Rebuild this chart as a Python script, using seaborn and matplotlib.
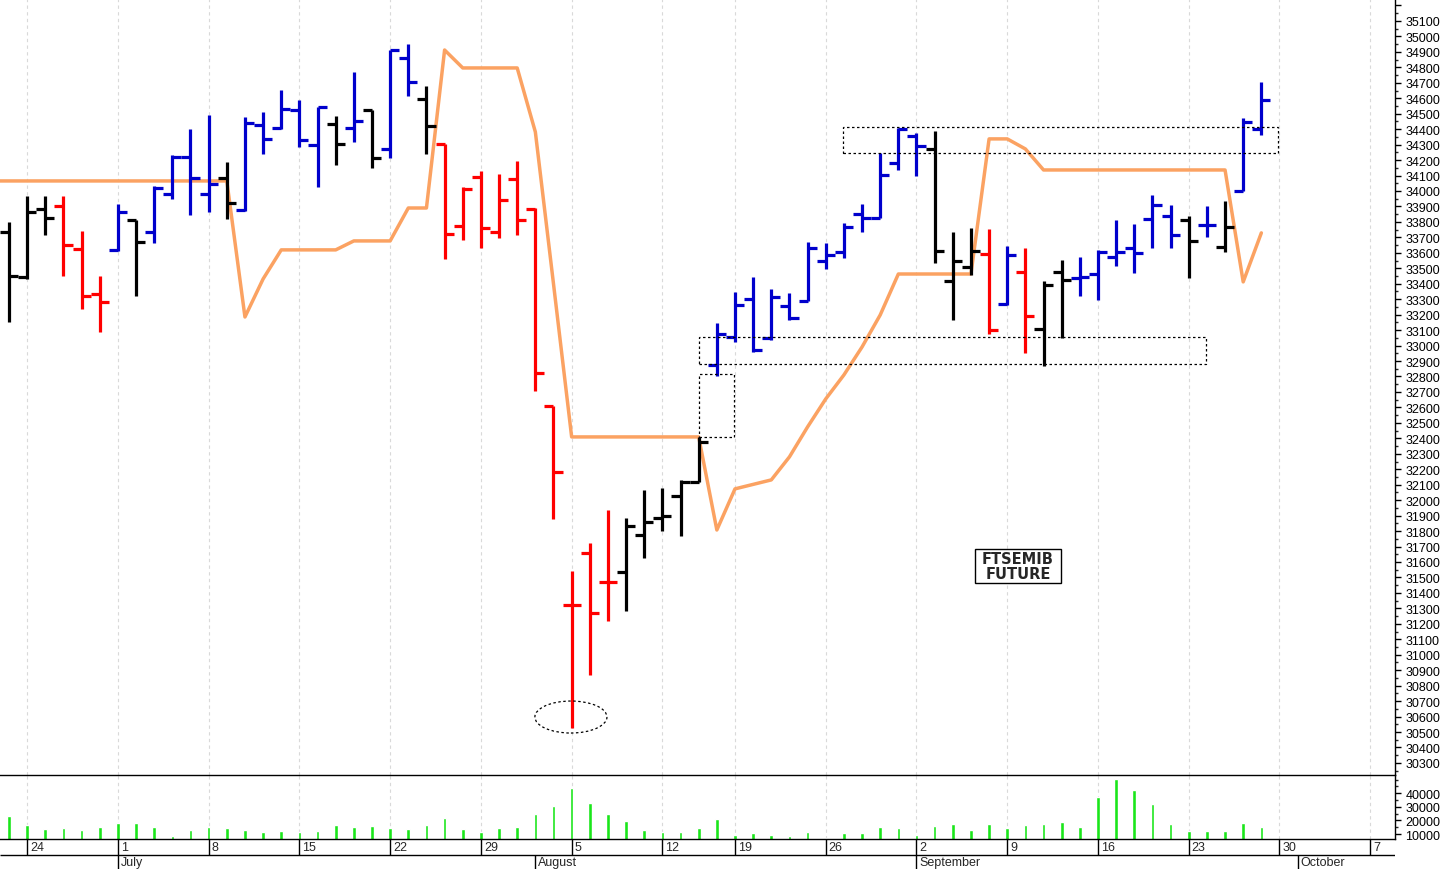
import numpy as np
import pandas as pd
import matplotlib
matplotlib.use("Agg")
import matplotlib.pyplot as plt
import seaborn as sns
from matplotlib.patches import Rectangle, Ellipse
from matplotlib.ticker import MultipleLocator, FixedLocator, FuncFormatter

# ---------------- data ----------------
trading_days = [d for d in pd.bdate_range("2024-06-21", "2024-10-11")
                if d != pd.Timestamp("2024-08-15")]

opens = [33735, 33444, 33884, 33903, 33625, 33334, 33619, 33813, 33735, 33981,
         34220, 33981, 34084, 33877, 34427, 34408, 34524, 34298, 34434, 34408,
         34524, 34272, 34861, 34595, 34304, 33774, 34091, 33735, 34078, 33884,
         32609, 31322, 31659, 31471, 31536, 31775, 31885, 32027, 32118, 32875,
         33056, 33302, 33049, 33256, 33289, 33547, 33606, 33851, 33826, 34181,
         34356, 34272, 33418, 33509, 33593, 33269, 33476, 33108, 33476, 33437,
         33463, 33573, 33632, 33819, 33839, 33813, 33780, 33638, 34000, 34401]
highs = [33800, 33968, 33968, 33968, 33741, 33450, 33916, 33813, 34033, 34233,
         34401, 34492, 34188, 34479, 34511, 34654, 34589, 34544, 34485, 34770,
         34524, 34912, 34951, 34680, 34304, 34026, 34130, 34110, 34194, 33890,
         32609, 31542, 31723, 31937, 31885, 32066, 32079, 32131, 32409, 33146,
         33347, 33444, 33366, 33340, 33670, 33664, 33793, 33916, 34246, 34408,
         34375, 34388, 33735, 33761, 33754, 33644, 33632, 33418, 33554, 33573,
         33619, 33813, 33787, 33974, 33910, 33839, 33903, 33936, 34473, 34705]
lows = [33153, 33431, 33716, 33450, 33237, 33088, 33612, 33321, 33664, 33949,
        33845, 33864, 33819, 33871, 34240, 34401, 34285, 34026, 34168, 34317,
        34149, 34214, 34615, 34240, 33560, 33683, 33632, 33696, 33716, 32706,
        31878, 30526, 30869, 31219, 31283, 31626, 31801, 31768, 32118, 32803,
        33023, 32959, 33036, 33166, 33289, 33496, 33567, 33735, 33826, 34136,
        34097, 33534, 33166, 33457, 33075, 33263, 32952, 32868, 33049, 33321,
        33295, 33515, 33470, 33632, 33632, 33437, 33703, 33606, 34000, 34363]
closes = [33450, 33864, 33826, 33651, 33321, 33282, 33864, 33670, 34020, 34220,
          34084, 34046, 33923, 34440, 34337, 34531, 34330, 34544, 34304, 34453,
          34214, 34912, 34705, 34421, 33722, 34013, 33761, 33942, 33813, 32823,
          32182, 31322, 31270, 31471, 31833, 31859, 31898, 32118, 32377, 33075,
          33263, 32972, 33315, 33179, 33632, 33586, 33767, 33826, 34104, 34401,
          34291, 33612, 33547, 33612, 33101, 33586, 33192, 33392, 33425, 33444,
          33606, 33606, 33599, 33910, 33716, 33677, 33780, 33767, 34447, 34589]
bar_colors = list("kkkrrrbkbbbbkbbbbbkbkbbkrrrrrrrrrrkkkkkbbbbbbbbbbbbkkkrbrkkbbbbbbkbkbb")

# indicator value for the session before the first bar, then one per bar
orange_prev = 34065
orange_line = [34065, 34065, 34065, 34065, 34065, 34065, 34065, 34065, 34065, 34065,
               34065, 34065, 34065, 33185, 33431, 33619, 33619, 33619, 33619, 33677,
               33677, 33677, 33890, 33890, 34912, 34796, 34796, 34796, 34796, 34382,
               33399, 32409, 32409, 32409, 32409, 32409, 32409, 32409, 32409, 31807,
               32073, 32102, 32131, 32280, 32474, 32655, 32810, 32991, 33198, 33463,
               33463, 33463, 33463, 33463, 34337, 34337, 34272, 34136, 34136, 34136,
               34136, 34136, 34136, 34136, 34136, 34136, 34136, 34136, 33412, 33729]

volume = [23000, 16600, 13450, 14200, 12700, 14900, 18100, 18100, 14900, 8300,
          13200, 14900, 14200, 12700, 11200, 12000, 11500, 12200, 16600, 15100,
          15600, 14200, 13450, 16600, 21800, 13450, 11500, 14200, 14900, 24700,
          30400, 43600, 32800, 24700, 19600, 13000, 11200, 11500, 14500, 21000,
          9500, 10700, 9300, 8800, 11200, 6800, 10500, 10500, 14900, 14200,
          9500, 15600, 17400, 12700, 17400, 14400, 16600, 17400, 18600, 15400,
          37000, 50400, 42600, 32300, 17100, 12400, 12400, 12400, 18100, 15400]

month_names = ["July", "August", "September", "October"]

# annotations (x in bar index units, y in price)
zone_boxes = [(45.95, 69.92, 34246, 34414),
              (38.02, 65.95, 32881, 33056),
              (38.02, 39.94, 32409, 32816)]
low_ellipse = (30.96, 30597, 3.97, 207)
label_box = (53.22, 57.96, 31464, 31684)
label_text = "FTSEMIB\nFUTURE"

# ---------------- style ----------------
sns.set_style("white")
plt.rcParams['font.family'] = ['Liberation Sans', 'DejaVu Sans']

color_map = {'k': '#000000', 'r': '#FF0000', 'b': '#0000CC'}
cols = [color_map[c] for c in bar_colors]
idx = np.arange(len(closes))

W, H = 1445, 870
fig = plt.figure(figsize=(W / 100, H / 100), dpi=100)
axw = 1395 / W
ax_p = fig.add_axes([0, 94 / H, axw, 776 / H])
ax_v = fig.add_axes([0, 30 / H, axw, 64 / H])
ax_d = fig.add_axes([0, 0, axw, 30 / H])
x0, x1 = -9 / 18.15, (1395 - 9) / 18.15

mondays = [i for i, d in enumerate(trading_days) if d.weekday() == 0]
month_starts = [i for i in range(1, len(trading_days))
                if trading_days[i].month != trading_days[i - 1].month]

p_lim = (30222, 35242)
v_lim = (6324, 53383)

# grid
for ax, lim in ((ax_p, p_lim), (ax_v, v_lim)):
    ax.set_xlim(x0, x1)
    ax.set_ylim(*lim)
    ax.vlines(mondays, lim[0], lim[1], colors='#d9d9d9',
              linestyles=(0, (3, 3)), lw=0.8, zorder=0)

# orange indicator line
o_x = np.concatenate([[-1], idx])
o_y = [orange_prev] + orange_line
sns.lineplot(x=o_x, y=o_y, ax=ax_p, color='#FBA262', lw=2.5, zorder=2)
ax_p.set_xlim(x0, x1)

# OHLC bars
lw = 2.3
ax_p.vlines(idx, lows, highs, colors=cols, lw=lw, zorder=3)
ax_p.hlines(opens, idx - 0.5, idx, colors=cols, lw=lw, zorder=3)
ax_p.hlines(closes, idx, idx + 0.5, colors=cols, lw=lw, zorder=3)

# dotted zones
for (xa, xb, ya, yb) in zone_boxes:
    ax_p.add_patch(Rectangle((xa, ya), xb - xa, yb - ya, fill=False, ec='black',
                             lw=0.9, ls=(0, (2, 2)), zorder=4))
ex, ey, ew, eh = low_ellipse
ax_p.add_patch(Ellipse((ex, ey), ew, eh, fill=False, ec='black', lw=0.9,
                       ls=(0, (2, 2)), zorder=4))

# label box
bx0, bx1, by0, by1 = label_box
ax_p.add_patch(Rectangle((bx0, by0), bx1 - bx0, by1 - by0, fc='white', ec='black',
                         lw=1, zorder=5))
ax_p.text((bx0 + bx1) / 2, (by0 + by1) / 2, label_text, ha='center', va='center',
          fontsize=10.5, fontweight='bold', family=['DejaVu Sans'],
          linespacing=0.95, zorder=6)

ax_p.set_xlabel("")
ax_p.set_ylabel("")

# price axis
ax_p.yaxis.tick_right()
ax_p.yaxis.set_major_locator(MultipleLocator(100))
ax_p.yaxis.set_minor_locator(MultipleLocator(50))
ax_p.yaxis.set_major_formatter(FuncFormatter(lambda v, p: f"{v:.0f}" if v <= 35150 else ""))
ax_p.tick_params(axis='y', which='major', length=4.5, width=1, direction='out',
                 labelsize=9, pad=3, colors='black', right=True, left=False)
ax_p.tick_params(axis='y', which='minor', length=2.5, width=1, direction='out',
                 right=True, left=False)
ax_p.set_xticks([])
for s in ('top', 'left', 'bottom'):
    ax_p.spines[s].set_visible(False)
ax_p.spines['right'].set_color('black')
ax_p.spines['right'].set_linewidth(1)

# volume
ax_v.bar(idx, volume, width=0.2, color='#1AE61A', zorder=2)
ax_v.yaxis.tick_right()
ax_v.yaxis.set_major_locator(FixedLocator([10000, 20000, 30000, 40000]))
ax_v.yaxis.set_minor_locator(MultipleLocator(5000))
ax_v.yaxis.set_major_formatter(FuncFormatter(lambda v, p: f"{v:.0f}"))
ax_v.tick_params(axis='y', which='major', length=4.5, width=1, direction='out',
                 labelsize=9, pad=3, colors='black', right=True, left=False)
ax_v.tick_params(axis='y', which='minor', length=2.5, width=1, direction='out',
                 right=True, left=False)
ax_v.set_xticks([])
ax_v.spines['left'].set_visible(False)
for s in ('top', 'right', 'bottom'):
    ax_v.spines[s].set_color('black')
    ax_v.spines[s].set_linewidth(1)

# date axis
ax_d.set_xlim(x0, x1)
ax_d.set_ylim(0, 30)
ax_d.axis('off')
ax_d.hlines(14, x0, x1, colors='black', lw=1)
ax_d.vlines(mondays, 14, 30, colors='black', lw=1)
ax_d.vlines(month_starts, 0, 14, colors='black', lw=1)
off = 3 / 18.15
for m in mondays:
    ax_d.text(m + off, 21.5, str(trading_days[m].day), ha='left', va='center', fontsize=9)
for ms, name in zip(month_starts, month_names):
    ax_d.text(ms + off, 6.5, name, ha='left', va='center', fontsize=9)

fig.savefig("out.png", dpi=100)
